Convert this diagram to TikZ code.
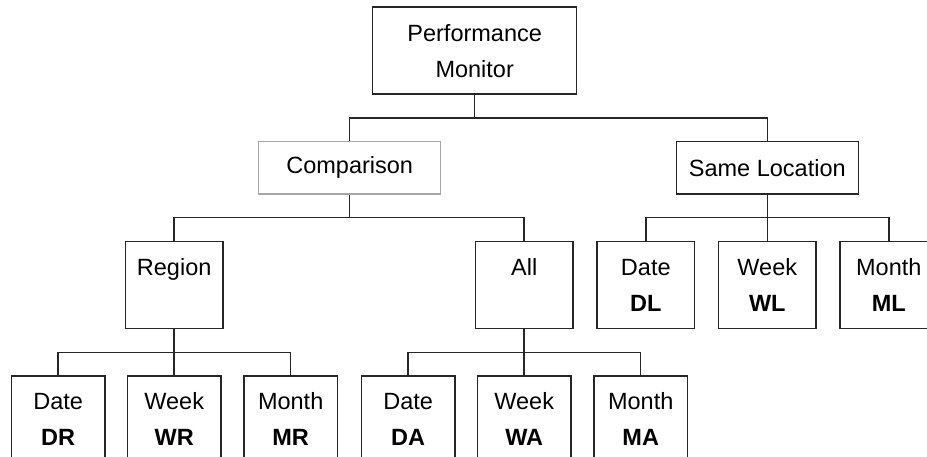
\documentclass[tikz,border=0pt]{standalone}
\usepackage{fontspec}
\setmainfont{Liberation Sans}
\usetikzlibrary{positioning}

\begin{document}
\begin{tikzpicture}
  \newdimen\dist
  \dist=23pt

  \tikzstyle{rootBox} = [
    % The shape:
    rectangle, minimum height=87pt, minimum width=204pt, inner sep=0pt,
    % The border:
    line width=1.4pt,
    draw=black!85,
    % Font:
    font=\fontsize{23.5}{36}\selectfont, align=center, text=black
  ];
  \tikzstyle{categoryBox} = [
    rootBox,
    minimum height=52.5pt, minimum width=182pt
  ];
  \tikzstyle{optionBox} = [
    rootBox,
    minimum width=97.5pt
  ];
  \tikzstyle{reportBox} = [
    rootBox,
    minimum width=93.5pt
  ];
  \tikzstyle{link} = [
    draw = black!85,
    line width=1.4pt
  ];

  % Frame of the picture
  \useasboundingbox (-474.7pt,50.7pt) rectangle (452.3pt,-406.3pt);
  \clip (-474.7pt,50.7pt) rectangle (452.3pt,-406.3pt);

  \node [rootBox] (perfMonitor) {Performance\\Monitor};

  \node [categoryBox, draw=black!35, below = 2*\dist of perfMonitor, xshift=-125pt] (comparison) {Comparison};
  \node [categoryBox, below = 2*\dist of perfMonitor, xshift=292.6pt] (sameLocation) {Same Location};

  \node [optionBox, below = 2*\dist of comparison, xshift=-175.5pt] (region) {Region\\\mbox{}};
  \node [optionBox, below = 2*\dist of comparison, xshift=174.5pt] (all) {All\\\mbox{}};

  \node [optionBox, below = 2*\dist of sameLocation, xshift=-121.5pt] (dateLocation) {Date\\\textbf{DL}};
  \node [optionBox, below = 2*\dist of sameLocation] (weekLocation) {Week\\\textbf{WL}};
  \node [optionBox, below = 2*\dist of sameLocation, xshift=121.5pt] (monthLocation) {Month\\\textbf{ML}};

  \node [reportBox, below = 2*\dist of region, xshift=-116pt] (dateRegion) {Date\\\textbf{DR}};
  \node [reportBox, below = 2*\dist of region] (weekRegion) {Week\\\textbf{WR}};
  \node [reportBox, below = 2*\dist of region, xshift=116.5pt] (monthRegion) {Month\\\textbf{MR}};

  \node [reportBox, below = 2*\dist of all, xshift=-116pt] (dateAll) {Date\\\textbf{DA}};
  \node [reportBox, below = 2*\dist of all] (weekAll) {Week\\\textbf{WA}};
  \node [reportBox, below = 2*\dist of all, xshift=116.5pt] (monthAll) {Month\\\textbf{MA}};

  \path [link] (perfMonitor.south) -- ++(0,-\dist) -| (comparison.north);
  \path [link] (perfMonitor.south) -- ++(0,-\dist) -| (sameLocation.north);

  \path [link] (comparison.south) -- ++(0,-\dist) -| (region.north);
  \path [link] (comparison.south) -- ++(0,-\dist) -| (all.north);

  \path [link] (sameLocation.south) -- ++(0,-\dist) -| (dateLocation.north);
  \path [link] (sameLocation.south) -- (weekLocation.north);
  \path [link] (sameLocation.south) -- ++(0,-\dist) -| (monthLocation.north);

  \path [link] (region.south) -- ++(0,-\dist) -| (dateRegion.north);
  \path [link] (region.south) -- (weekRegion.north);
  \path [link] (region.south) -- ++(0,-\dist) -| (monthRegion.north);

  \path [link] (all.south) -- ++(0,-\dist) -| (dateAll.north);
  \path [link] (all.south) -- (weekAll.north);
  \path [link] (all.south) -- ++(0,-\dist) -| (monthAll.north);
\end{tikzpicture}
\end{document}
